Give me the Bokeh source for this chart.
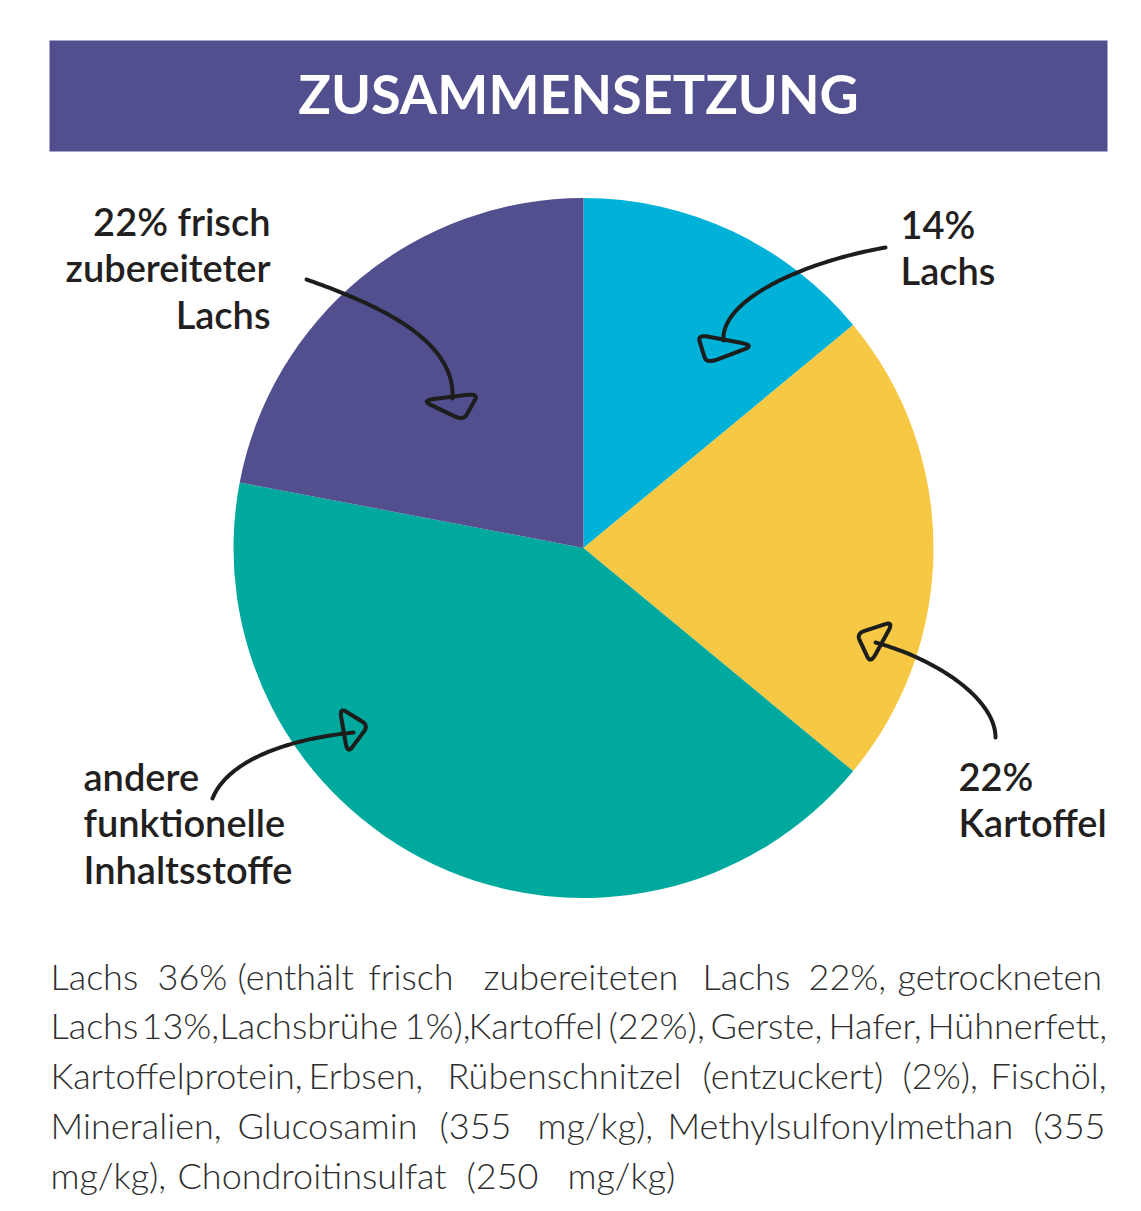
import numpy as np
from bokeh.plotting import figure
from bokeh.models import Range1d
from bokeh.core.properties import value
from bokeh.embed import file_html
from bokeh.resources import INLINE

# ---------------- data ----------------
title = "ZUSAMMENSETZUNG"
categories = ["Lachs", "Kartoffel", "andere funktionelle Inhaltsstoffe",
              "frisch zubereiteter Lachs"]
shares = [14, 22, 42, 22]
colors = ["#00b1d8", "#f7c843", "#00a99e", "#524f8f"]
label_lines = [
    ["14%", "Lachs"],
    ["22%", "Kartoffel"],
    ["andere", "funktionelle", "Inhaltsstoffe"],
    ["22% frisch", "zubereiteter", "Lachs"],
]
paragraph_lines = [
    ["Lachs", "36%", "(enthält", "frisch", "zubereiteten", "Lachs", "22%,", "getrockneten"],
    ["Lachs", "13%,", "Lachsbrühe", "1%),", "Kartoffel", "(22%),", "Gerste,", "Hafer,", "Hühnerfett,"],
    ["Kartoffelprotein,", "Erbsen,", "Rübenschnitzel", "(entzuckert)", "(2%),", "Fischöl,"],
    ["Mineralien,", "Glucosamin", "(355", "mg/kg),", "Methylsulfonylmethan", "(355"],
    ["mg/kg),", "Chondroitinsulfat", "(250", "mg/kg)"],
]

# ---------------- layout (pixel units, y measured from top) ----------------
W, H = 1141, 1211
def Y(py):
    return H - py

CX, CY, R = 583, 547.5, 350
banner = (49, 1107, 40, 151)

label_layout = [  # x, first baseline, align
    (900, 240, "left"),
    (958, 792, "left"),
    (83, 792, "left"),
    (270, 237, "right"),
]
label_step = 46.5
label_shift = 17      # renderer baseline correction
title_shift = 22
para_shift = 15

para_word_x = [
    [50, 157, 237, 368, 483, 702, 808, 897],
    [50, 141, 219, 404, 468, 608, 710, 828, 927],
    [50, 308, 447, 702, 902, 990],
    [50, 237, 439, 537, 667, 1033],
    [50, 177, 466, 567],
]
para_base = [990, 1039.5, 1089, 1139.5, 1189]

arrows = [  # cubic bezier P0..P3, head triangle
    ([(885, 247), (800, 262), (720, 300), (723, 340)], [(697, 334), (754, 345), (706, 363)]),
    ([(995, 737), (995, 700), (940, 660), (875, 642)], [(893, 621), (856, 633), (870, 663)]),
    ([(212, 798), (225, 765), (275, 740), (353, 732)], [(339, 707), (368, 725), (347, 753)]),
    ([(306, 279), (380, 305), (455, 340), (452, 398)], [(421, 400), (478, 393), (463, 420)]),
]

# ---------------- figure ----------------
p = figure(width=W, height=H, x_range=Range1d(0, W), y_range=Range1d(0, H),
           output_backend="svg", toolbar_location=None, min_border=0,
           background_fill_color="white", border_fill_color="white")
p.axis.visible = False
p.grid.visible = False
p.outline_line_color = None

# banner
p.quad(left=[banner[0]], right=[banner[1]], top=[Y(banner[2])], bottom=[Y(banner[3])],
       fill_color="#524f8f", line_color=None)
p.text(x=[(banner[0] + banner[1]) / 2], y=[Y(115 - title_shift)], text=[title],
       text_font=value("Lato"), text_font_style="bold", text_font_size="54px",
       text_color="white", text_align="center", text_baseline="alphabetic")

# pie
fr = np.array(shares, dtype=float) / sum(shares)
cum = np.concatenate([[0], np.cumsum(fr)])
starts = np.pi / 2 - 2 * np.pi * cum[:-1]
ends = np.pi / 2 - 2 * np.pi * cum[1:]
p.wedge(x=[CX] * len(shares), y=[Y(CY)] * len(shares), radius=R,
        start_angle=starts, end_angle=ends, direction="clock",
        fill_color=colors, line_color=None)

# arrows
def bez(pts, n=60):
    P = np.array(pts, dtype=float)
    t = np.linspace(0, 1, n)[:, None]
    return ((1 - t) ** 3 * P[0] + 3 * (1 - t) ** 2 * t * P[1]
            + 3 * (1 - t) * t ** 2 * P[2] + t ** 3 * P[3])

def rounded_tri(verts, r=0.22, n=10):
    out = []
    k = len(verts)
    for i in range(k):
        v = np.array(verts[i], float)
        pv = np.array(verts[i - 1], float)
        nx = np.array(verts[(i + 1) % k], float)
        a = v + (pv - v) * r
        b = v + (nx - v) * r
        t = np.linspace(0, 1, n)[:, None]
        out.append((1 - t) ** 2 * a + 2 * (1 - t) * t * v + t ** 2 * b)
    arr = np.vstack(out)
    return np.vstack([arr, arr[:1]])

ink = "#1d1d1b"
for curve, head in arrows:
    c = bez(curve)
    p.line(c[:, 0], H - c[:, 1], line_color=ink, line_width=4, line_cap="round")
    h = rounded_tri(head)
    p.line(h[:, 0], H - h[:, 1], line_color=ink, line_width=4,
           line_cap="round", line_join="round")

# labels
for lines, (lx, ly, al) in zip(label_lines, label_layout):
    p.text(x=[lx] * len(lines),
           y=[Y(ly - label_shift + i * label_step) for i in range(len(lines))],
           text=lines, text_font=value("Lato Semibold, Lato"), text_font_style="bold",
           text_font_size="38px", text_color="#231f20", text_align=al,
           text_baseline="alphabetic")

# paragraph
for words, xs, by in zip(paragraph_lines, para_word_x, para_base):
    p.text(x=xs, y=[Y(by - para_shift)] * len(words), text=words,
           text_font=value("Lato Light, Lato"), text_font_size="36px",
           text_color="#2e2e2e", text_align="left", text_baseline="alphabetic")

open("out.html", "w").write(file_html(p, INLINE))
